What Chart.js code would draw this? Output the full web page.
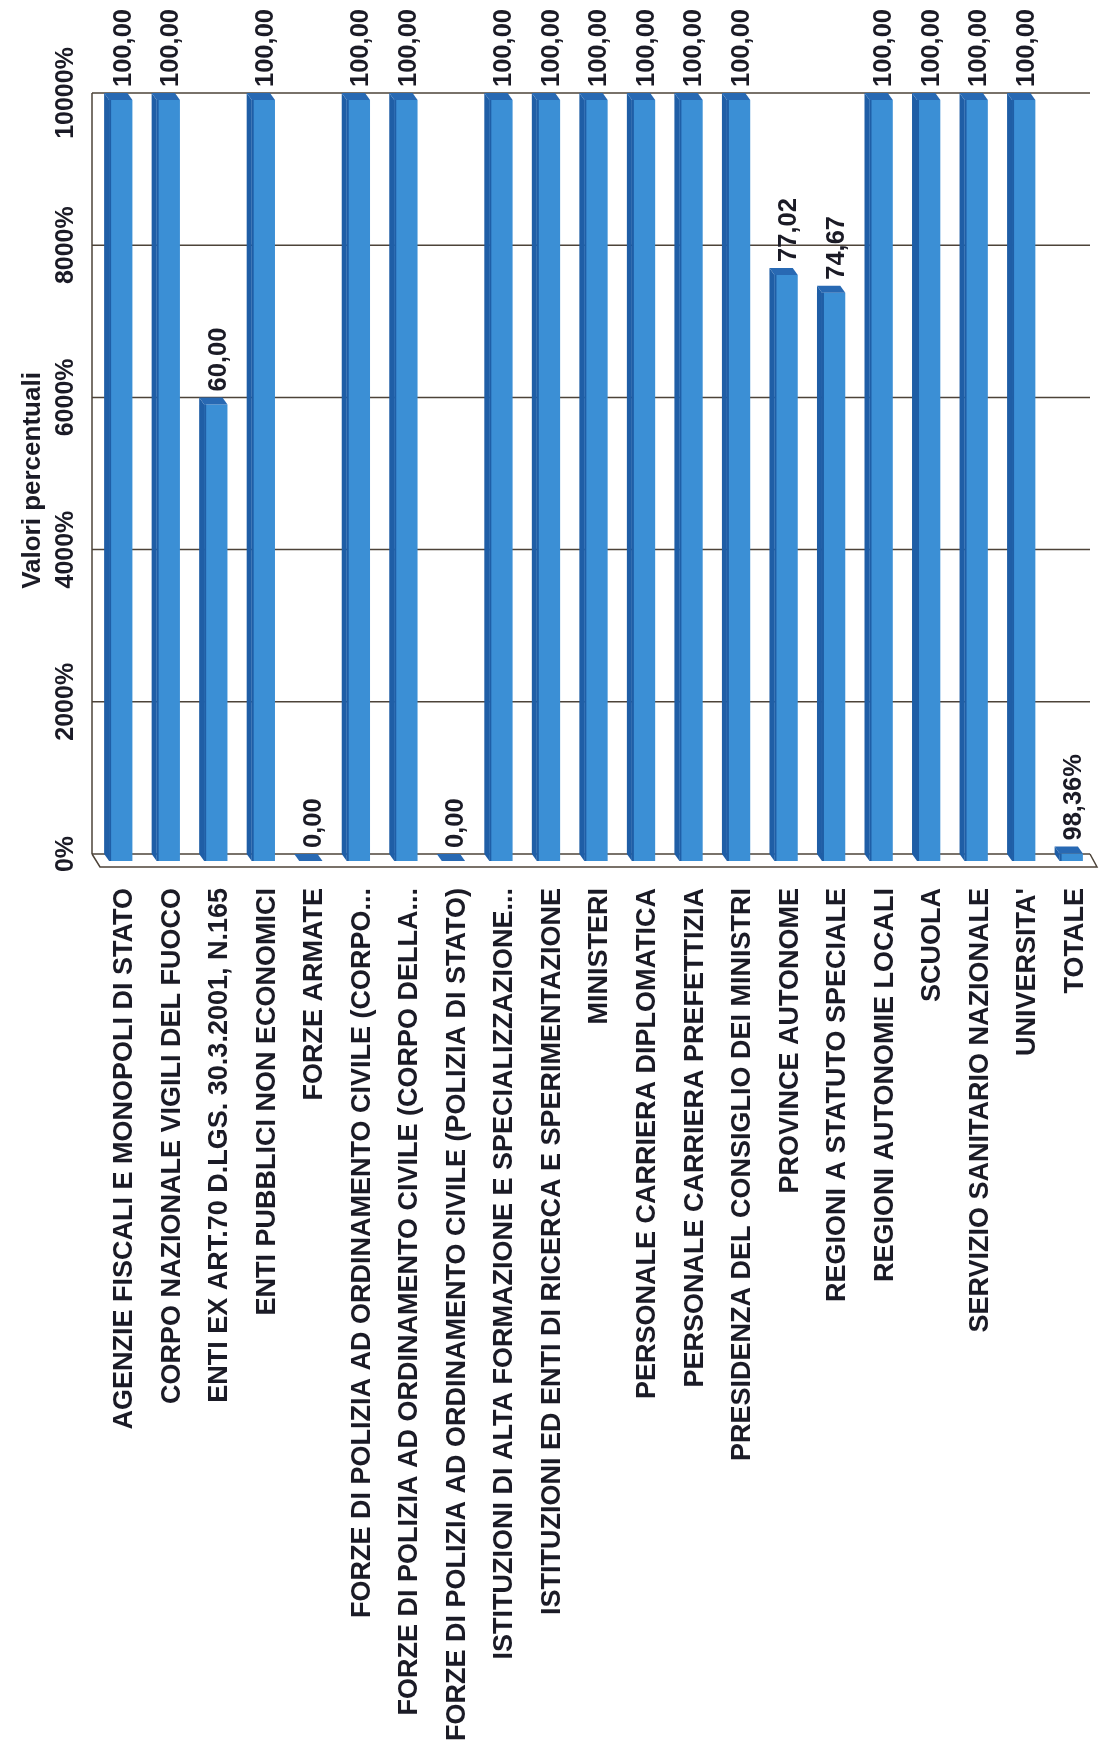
<!DOCTYPE html>
<html lang="it">
<head>
<meta charset="utf-8">
<title>Valori percentuali</title>
<script src="https://cdn.jsdelivr.net/npm/chart.js@4/dist/chart.umd.min.js"></script>
<style>
  html, body { margin: 0; padding: 0; background: #fff; }
  #wrap { position: relative; width: 1101px; height: 1745px; }
</style>
</head>
<body>
<div id="wrap"><canvas id="chart"></canvas></div>
<script>
/* ─── DATA ─── */
const categories = [
  'AGENZIE FISCALI E MONOPOLI DI STATO',
  'CORPO NAZIONALE VIGILI DEL FUOCO',
  'ENTI EX ART.70 D.LGS. 30.3.2001, N.165',
  'ENTI PUBBLICI NON ECONOMICI',
  'FORZE ARMATE',
  'FORZE DI POLIZIA AD ORDINAMENTO CIVILE (CORPO...',
  'FORZE DI POLIZIA AD ORDINAMENTO CIVILE (CORPO DELLA...',
  'FORZE DI POLIZIA AD ORDINAMENTO CIVILE (POLIZIA DI STATO)',
  'ISTITUZIONI DI ALTA FORMAZIONE E SPECIALIZZAZIONE...',
  'ISTITUZIONI ED ENTI DI RICERCA E SPERIMENTAZIONE',
  'MINISTERI',
  'PERSONALE CARRIERA DIPLOMATICA',
  'PERSONALE CARRIERA PREFETTIZIA',
  'PRESIDENZA DEL CONSIGLIO DEI MINISTRI',
  'PROVINCE AUTONOME',
  'REGIONI A STATUTO SPECIALE',
  'REGIONI AUTONOMIE LOCALI',
  'SCUOLA',
  'SERVIZIO SANITARIO NAZIONALE',
  "UNIVERSITA'",
  'TOTALE'
];

const values = [100, 100, 60, 100, 0, 100, 100, 0, 100, 100, 100,
                100, 100, 100, 77.02, 74.67, 100, 100, 100, 100, 0.9836];

const valueLabels = ['100,00', '100,00', '60,00', '100,00', '0,00', '100,00', '100,00',
                     '0,00', '100,00', '100,00', '100,00', '100,00', '100,00', '100,00',
                     '77,02', '74,67', '100,00', '100,00', '100,00', '100,00', '98,36%'];

const yTicks      = [0, 20, 40, 60, 80, 100];
const yTickLabels = ['0%', '2000%', '4000%', '6000%', '8000%', '10000%'];

/* ─── STYLE ─── */
const FONT      = 'Liberation Sans, Arial, sans-serif';
const TEXT      = '#1b1b26';
const BAR_FRONT = '#3b8fd5';
const BAR_SIDE  = '#1f5ea6';
const BAR_TOP   = '#2869b3';
const GRID      = '#4d4339';
const DX = 5, DY = 7;   // 3D depth: back wall sits up-left of the bar fronts

/* ─── BACK WALL: gridlines, axis line, floor ─── */
const wall = {
  id: 'wall',
  beforeDatasetsDraw(chart) {
    const ctx = chart.ctx;
    const yScale = chart.scales.y;
    const { left, right, bottom } = chart.chartArea;

    ctx.save();
    ctx.strokeStyle = GRID;
    ctx.lineWidth = 1.5;

    yTicks.forEach(v => {
      const py = yScale.getPixelForValue(v) - DY;
      ctx.beginPath();
      ctx.moveTo(left - DX, py);
      ctx.lineTo(right - DX, py);
      ctx.stroke();
    });

    // left wall
    ctx.beginPath();
    ctx.moveTo(left - DX, yScale.getPixelForValue(100) - DY);
    ctx.lineTo(left - DX, bottom - DY);
    ctx.stroke();

    // floor front edge
    ctx.beginPath();
    ctx.moveTo(left - DX, bottom - DY);
    ctx.lineTo(left + 3, bottom + 6);
    ctx.lineTo(right + 2, bottom + 6);
    ctx.lineTo(right - DX, bottom - DY);
    ctx.stroke();
    ctx.restore();
  }
};

/* ─── 3D BARS ─── */
const bars3d = {
  id: 'bars3d',
  afterDatasetsDraw(chart) {
    const ctx = chart.ctx;
    chart.getDatasetMeta(0).data.forEach(bar => {
      const { x, y, base, width } = bar.getProps(['x', 'y', 'base', 'width'], true);
      const L = x - width / 2, R = x + width / 2;
      ctx.save();
      // left side face
      ctx.fillStyle = BAR_SIDE;
      ctx.beginPath();
      ctx.moveTo(L, y); ctx.lineTo(L - DX, y - DY);
      ctx.lineTo(L - DX, base - DY); ctx.lineTo(L, base);
      ctx.closePath(); ctx.fill();
      // top face
      ctx.fillStyle = BAR_TOP;
      ctx.beginPath();
      ctx.moveTo(L, y); ctx.lineTo(R, y);
      ctx.lineTo(R - DX, y - DY); ctx.lineTo(L - DX, y - DY);
      ctx.closePath(); ctx.fill();
      // darker left edge of the front face
      ctx.fillStyle = BAR_SIDE;
      ctx.fillRect(L, Math.min(y, base), 2, Math.abs(base - y));
      ctx.restore();
    });
  }
};

/* ─── VALUE LABELS + VALUE AXIS LABELS ─── */
const labels = {
  id: 'labels',
  afterDraw(chart) {
    const ctx = chart.ctx;
    const yScale = chart.scales.y;

    ctx.save();
    ctx.fillStyle = TEXT;
    ctx.font = 'bold 25.5px ' + FONT;
    ctx.textBaseline = 'middle';

    // bar values, written bottom to top
    ctx.textAlign = 'left';
    chart.getDatasetMeta(0).data.forEach((bar, i) => {
      ctx.save();
      ctx.translate(bar.x + 3, bar.y - 13);
      ctx.rotate(-Math.PI / 2);
      ctx.fillText(valueLabels[i], 0, 0);
      ctx.restore();
    });

    // value axis tick labels (on the back wall)
    ctx.font = 'bold 25px ' + FONT;
    ctx.textAlign = 'center';
    yScale.ticks.forEach((t, i) => {
      const py = yScale.getPixelForValue(t.value) - DY;
      ctx.save();
      ctx.translate(66, py);
      ctx.rotate(-Math.PI / 2);
      ctx.fillText(yTickLabels[i], 0, 0);
      ctx.restore();
    });
    ctx.restore();
  }
};

/* ─── BUILD CHART ─── */
new Chart(document.getElementById('chart'), {
  type: 'bar',
  data: {
    labels: categories,
    datasets: [{
      data: values,
      backgroundColor: BAR_FRONT,
      borderWidth: 0,
      barPercentage: 0.49,
      categoryPercentage: 1
    }]
  },
  options: {
    responsive: true,
    maintainAspectRatio: false,
    animation: false,
    layout: { padding: { top: 100, right: 6, bottom: 0, left: 0 } },
    plugins: {
      legend: { display: false },
      tooltip: { enabled: false }
    },
    scales: {
      x: {
        grid: { display: false, drawTicks: false },
        border: { display: false },
        ticks: {
          color: TEXT,
          font: { family: FONT, size: 27, weight: 'bold' },
          minRotation: 90,
          maxRotation: 90,
          autoSkip: false,
          labelOffset: 4,
          padding: 27
        },
        afterFit: scale => {
          scale.height = 1745 - 861;
          // rotated labels must not squeeze the plot sideways
          scale.paddingLeft = 0;
          scale.paddingRight = 0;
        }
      },
      y: {
        min: 0,
        max: 100,
        afterBuildTicks: scale => { scale.ticks = yTicks.map(v => ({ value: v })); },
        grid: { display: false },
        border: { display: false },
        ticks: { display: false },
        title: {
          display: true,
          text: 'Valori percentuali',
          color: TEXT,
          font: { family: FONT, size: 26, weight: 'bold' },
          padding: { top: 17, bottom: 0 }
        },
        afterFit: scale => { scale.width = 97; }
      }
    }
  },
  plugins: [wall, bars3d, labels]
});
</script>
</body>
</html>
